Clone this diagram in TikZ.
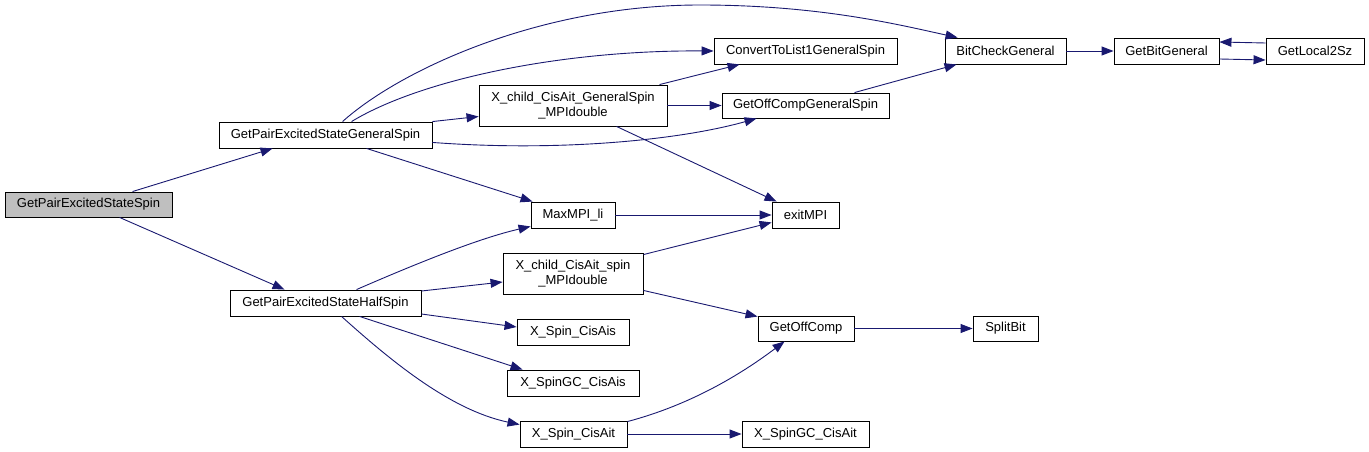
\documentclass[tikz,border=0pt]{standalone}
\usepackage{fontspec}
\setmainfont{Liberation Sans}
\usetikzlibrary{arrows.meta,calc}
\definecolor{edgeblue}{HTML}{191970}
\definecolor{nodegray}{HTML}{BFBFBF}
\begin{document}
\begin{tikzpicture}[x=1pt,y=-1pt,
  fbox/.style={draw=black,line width=0.9pt,fill=white,inner sep=0pt,align=center,
    font=\fontsize{13}{15}\selectfont},
  edge/.style={draw=edgeblue,line width=0.9pt,-{Triangle[length=12pt,width=9pt]}}]
\useasboundingbox (0,0) rectangle (1369,452);
% nodes
\node[fbox,fill=nodegray,minimum width=167,minimum height=25] (spin) at (88.5,204.5) {GetPairExcitedStateSpin};
\node[fbox,minimum width=213,minimum height=26] (gen) at (325.5,135) {GetPairExcitedStateGeneralSpin};
\node[fbox,minimum width=191,minimum height=26] (half) at (325.5,303) {GetPairExcitedStateHalfSpin};
\node[fbox,minimum width=188,minimum height=41] (xcg) at (573,105.5) {X\_child\_CisAit\_GeneralSpin\\\_MPIdouble};
\node[fbox,minimum width=183,minimum height=26] (conv) at (805.5,51) {ConvertToList1GeneralSpin};
\node[fbox,minimum width=167,minimum height=25] (gocg) at (805.5,105.5) {GetOffCompGeneralSpin};
\node[fbox,minimum width=84,minimum height=26] (maxmpi) at (573,215) {MaxMPI\_li};
\node[fbox,minimum width=67,minimum height=26] (exit) at (805.5,215) {exitMPI};
\node[fbox,minimum width=121,minimum height=26] (bcg) at (1005.5,51) {BitCheckGeneral};
\node[fbox,minimum width=105,minimum height=26] (gbg) at (1166.5,51) {GetBitGeneral};
\node[fbox,minimum width=98,minimum height=26] (gl2) at (1315,51) {GetLocal2Sz};
\node[fbox,minimum width=140,minimum height=41] (xcs) at (573,273.5) {X\_child\_CisAit\_spin\\\_MPIdouble};
\node[fbox,minimum width=112,minimum height=26] (xsca) at (573,332) {X\_Spin\_CisAis};
\node[fbox,minimum width=132,minimum height=26] (xsgca) at (573,383) {X\_SpinGC\_CisAis};
\node[fbox,minimum width=107,minimum height=26] (xscat) at (573.5,434) {X\_Spin\_CisAit};
\node[fbox,minimum width=96,minimum height=25] (goc) at (806,328.5) {GetOffComp};
\node[fbox,minimum width=65,minimum height=25] (split) at (1005.5,328.5) {SplitBit};
\node[fbox,minimum width=127,minimum height=26] (xsgcat) at (805.5,434) {X\_SpinGC\_CisAit};
% edges
\draw[edge] ($(spin.north west)+(128,0)$) -- ($(gen.south west)+(54,0)$);
\draw[edge] ($(spin.south west)+(115,0)$) -- ($(half.north west)+(55,0)$);
\draw[edge] ($(gen.north west)+(124,0)$) .. controls (400,70) and (540,5) .. (700,5)
   .. controls (820,5) and (900,25) .. ($(bcg.north west)+(13,0)$);
\draw[edge] ($(gen.north west)+(133,0)$) .. controls (420,80) and (560,50) .. (conv.west);
\draw[edge] (gen.north east) -- ($(xcg.west)+(0,11)$);
\draw[edge] ($(gen.south east)+(0,-6)$) .. controls (560,152) and (680,140) .. ($(gocg.south west)+(35,0)$);
\draw[edge] ($(gen.south west)+(148,0)$) -- ($(maxmpi.north west)+(2,0)$);
\draw[edge] ($(xcg.north west)+(181,0)$) -- ($(conv.south west)+(26,0)$);
\draw[edge] (xcg.east) -- (gocg.west);
\draw[edge] ($(xcg.south west)+(138,0)$) -- ($(exit.north west)+(5,0)$);
\draw[edge] ($(gocg.north west)+(133,0)$) -- ($(bcg.south west)+(12,0)$);
\draw[edge] (maxmpi.east) -- (exit.west);
\draw[edge] (bcg.east) -- (gbg.west);
\draw[edge] ($(gbg.east)+(0,8)$) -- ($(gl2.west)+(0,9)$);
\draw[edge] ($(gl2.west)+(0,-8)$) -- ($(gbg.east)+(0,-9)$);
\draw[edge] ($(half.north west)+(127,0)$) .. controls (420,262) and (480,238) .. ($(maxmpi.south west)+(0,-2)$);
\draw[edge] ($(half.east)+(0,-12)$) -- ($(xcs.west)+(0,8.5)$);
\draw[edge] ($(half.east)+(0,11)$) -- ($(xsca.west)+(0,-5)$);
\draw[edge] ($(half.south west)+(130,0)$) -- ($(xsgca.north west)+(16,0)$);
\draw[edge] ($(half.south west)+(112,0)$) .. controls (390,360) and (450,410) .. ($(xscat.north west)+(0,4)$);
\draw[edge] ($(xcs.north east)+(0,2)$) -- ($(exit.south west)+(0,-6)$);
\draw[edge] ($(xcs.south east)+(0,-4)$) -- ($(goc.north west)+(0,1)$);
\draw[edge] ($(xscat.north east)+(0,1)$) .. controls (690,405) and (740,375) .. ($(goc.south west)+(27,0)$);
\draw[edge] (xscat.east) -- (xsgcat.west);
\draw[edge] (goc.east) -- (split.west);
\end{tikzpicture}
\end{document}
